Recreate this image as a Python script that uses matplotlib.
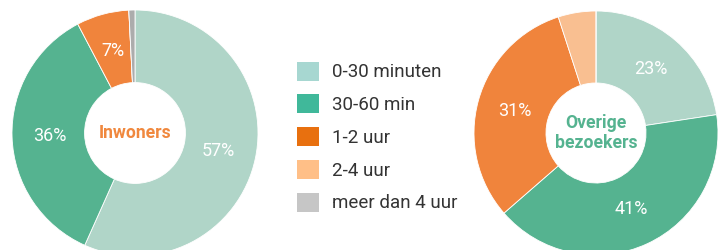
import matplotlib
matplotlib.use("Agg")
import matplotlib.pyplot as plt
from matplotlib.patches import Patch
import numpy as np

plt.rcParams['font.family'] = ['Roboto', 'DejaVu Sans']

categories = ["0-30 minuten", "30-60 min", "1-2 uur", "2-4 uur", "meer dan 4 uur"]
inwoners = [56.7, 35.6, 6.9, 0.0, 0.8]
inwoners_labels = ["57%", "36%", "7%", "", ""]
overige = [22.6, 41.0, 31.4, 5.0, 0.0]
overige_labels = ["23%", "41%", "31%", "", ""]

slice_colors = ["#B0D5C8", "#55B390", "#F0843C", "#F9BF91", "#ACACAC"]
legend_colors = ["#A7D7D1", "#40B89A", "#E8700F", "#FFBF87", "#C6C6C6"]

W, H = 720, 250
fig = plt.figure(figsize=(7.2, 2.5), dpi=100)


def add_donut(cx, cy, r, values, labels, title, title_color):
    ax = fig.add_axes([(cx - r) / W, (H - cy - r) / H, 2 * r / W, 2 * r / H])
    ax.pie(values, colors=slice_colors, startangle=90, counterclock=False,
           radius=1.0, wedgeprops=dict(width=0.59, edgecolor="white", linewidth=0.6))
    total = sum(values)
    cum = 0
    for v, lab in zip(values, labels):
        mid = (cum + v / 2) / total * 360
        cum += v
        if lab:
            th = np.deg2rad(90 - mid)
            ax.text(0.69 * np.cos(th), 0.69 * np.sin(th), lab, ha="center", va="center",
                    color="white", fontsize=13)
    ax.text(0, 0, title, ha="center", va="center", color=title_color, fontsize=12.7,
            fontweight="bold", linespacing=1.2)
    ax.set_xlim(-1, 1)
    ax.set_ylim(-1, 1)
    ax.set_aspect("equal")
    ax.axis("off")
    return ax


add_donut(135, 133, 123, inwoners, inwoners_labels, "Inwoners", "#F0883E")
add_donut(596, 133, 122, overige, overige_labels, "Overige\nbezoekers", "#55B390")

handles = [Patch(facecolor=c, edgecolor="none") for c in legend_colors]
fig.legend(handles, categories, loc="upper left", bbox_to_anchor=(291 / W, 1 - 56 / H),
           frameon=False, fontsize=13.5, handlelength=1.18, handleheight=1.18,
           handletextpad=0.7, labelspacing=0.69, borderaxespad=0, borderpad=0.3,
           labelcolor="#333333")

fig.savefig("out.png", dpi=100)
